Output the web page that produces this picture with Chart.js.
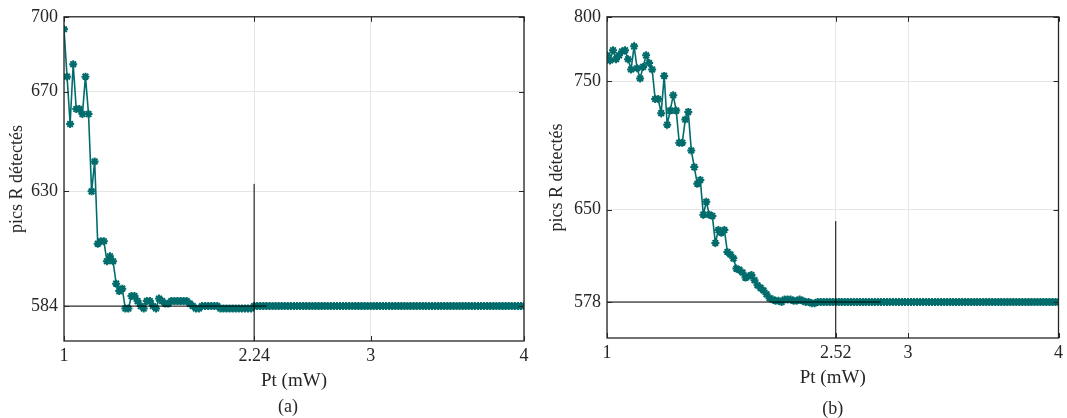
<!DOCTYPE html>
<html>
<head>
<meta charset="utf-8">
<script src="https://cdn.jsdelivr.net/npm/chart.js@4"></script>
<style>
  body { margin: 0; background: #fff; }
  canvas { position: absolute; top: 0; }
  #chartA { left: 0; }
  #chartB { left: 533px; }
</style>
</head>
<body>
<canvas id="chartA" width="533" height="418"></canvas>
<canvas id="chartB" width="534" height="418"></canvas>
<script>
// power sweep: 1 -> 4 mW, step 0.02 mW
const ptStart = 1;
const ptStep = 0.02;

// (a) detected R peaks
const peaksA = [
  695, 676, 657, 681, 663, 663, 661, 676, 661, 630,
  642, 609, 610, 610, 602, 604, 602, 593, 590, 591,
  583, 583, 588, 588, 586, 584, 583, 586, 586, 584,
  583, 587, 586, 585, 585, 586, 586, 586, 586, 586,
  586, 585, 584, 583, 583, 584, 584, 584, 584, 584,
  584, 583, 583, 583, 583, 583, 583, 583, 583, 583,
  583, 583, 584, 584, 584, 584, 584, 584, 584, 584,
  584, 584, 584, 584, 584, 584, 584, 584, 584, 584,
  584, 584, 584, 584, 584, 584, 584, 584, 584, 584,
  584, 584, 584, 584, 584, 584, 584, 584, 584, 584,
  584, 584, 584, 584, 584, 584, 584, 584, 584, 584,
  584, 584, 584, 584, 584, 584, 584, 584, 584, 584,
  584, 584, 584, 584, 584, 584, 584, 584, 584, 584,
  584, 584, 584, 584, 584, 584, 584, 584, 584, 584,
  584, 584, 584, 584, 584, 584, 584, 584, 584, 584,
  584
];

// (b) detected R peaks
const peaksB = [
  770, 766, 774, 767, 770, 773, 774, 767, 759, 777,
  760, 752, 761, 770, 764, 759, 736, 736, 725, 754,
  716, 727, 739, 727, 702, 702, 720, 726, 696, 683,
  670, 673, 646, 656, 646, 645, 624, 634, 632, 634,
  617, 615, 612, 604, 603, 601, 597, 598, 599, 595,
  591, 589, 587, 584, 581, 580, 579, 579, 578, 580,
  580, 580, 579, 579, 580, 579, 578, 578, 577, 577,
  578, 578, 578, 578, 578, 578, 578, 578, 578, 578,
  578, 578, 578, 578, 578, 578, 578, 578, 578, 578,
  578, 578, 578, 578, 578, 578, 578, 578, 578, 578,
  578, 578, 578, 578, 578, 578, 578, 578, 578, 578,
  578, 578, 578, 578, 578, 578, 578, 578, 578, 578,
  578, 578, 578, 578, 578, 578, 578, 578, 578, 578,
  578, 578, 578, 578, 578, 578, 578, 578, 578, 578,
  578, 578, 578, 578, 578, 578, 578, 578, 578, 578,
  578
];

// tick labels
const xTicksA = [1, 2.24, 3, 4];
const yTicksA = [584, 630, 670, 700];
const xTicksB = [1, 2.52, 3, 4];
const yTicksB = [578, 650, 750, 800];

// marker lines (x, y pairs)
const hLineA = [[1, 584], [2.32, 584]];
const vLineA = [[2.24, 570], [2.24, 633]];
const hLineB = [[1, 578], [2.82, 578]];
const vLineB = [[2.52, 550], [2.52, 641]];

const teal = "#006c6c";
const ink = "#262626";
const serif = "'Liberation Serif', 'Times New Roman', serif";

const frame = {
  id: "frame",
  afterDraw(chart, args, opts) {
    const { ctx, chartArea: a, scales } = chart;
    ctx.save();
    ctx.strokeStyle = ink;
    ctx.lineWidth = 1.3;
    ctx.strokeRect(a.left, a.top, a.right - a.left, a.bottom - a.top);
    ctx.lineWidth = 1;
    ctx.beginPath();
    scales.x.ticks.forEach((t) => {
      const px = Math.round(scales.x.getPixelForValue(t.value)) + 0.5;
      ctx.moveTo(px, a.bottom);
      ctx.lineTo(px, a.bottom - 5);
      ctx.moveTo(px, a.top);
      ctx.lineTo(px, a.top + 5);
    });
    scales.y.ticks.forEach((t) => {
      const py = Math.round(scales.y.getPixelForValue(t.value)) + 0.5;
      ctx.moveTo(a.left, py);
      ctx.lineTo(a.left + 5, py);
      ctx.moveTo(a.right, py);
      ctx.lineTo(a.right - 5, py);
    });
    ctx.stroke();
    ctx.fillStyle = ink;
    ctx.font = "18px " + serif;
    ctx.textAlign = "center";
    ctx.textBaseline = "middle";
    ctx.fillText(opts.label, (a.left + a.right) / 2 + opts.dx, opts.labelY);
    ctx.restore();
  },
};

function toPoints(values) {
  return values.map((v, i) => ({ x: ptStart + i * ptStep, y: v }));
}

function pairs(line) {
  return line.map((p) => ({ x: p[0], y: p[1] }));
}

function makeChart(id, o) {
  new Chart(document.getElementById(id), {
    type: "line",
    data: {
      datasets: [
        { data: pairs(o.hLine), borderColor: "#000", borderWidth: 1, pointRadius: 0 },
        { data: pairs(o.vLine), borderColor: "#000", borderWidth: 1, pointRadius: 0 },
        {
          data: toPoints(o.values),
          borderColor: teal,
          borderWidth: 1.6,
          pointStyle: "star",
          pointRadius: 4,
          pointBorderWidth: 2,
          pointBorderColor: teal,
          pointBackgroundColor: teal,
        },
      ],
    },
    options: {
      responsive: false,
      animation: false,
      parsing: false,
      layout: { padding: o.padding },
      plugins: {
        legend: { display: false },
        tooltip: { enabled: false },
        frame: { label: o.label, labelY: o.labelY, dx: o.labelDx },
      },
      scales: {
        x: {
          type: "linear",
          min: 1,
          max: 4,
          afterBuildTicks: (axis) => { axis.ticks = o.xTicks.map((v) => ({ value: v })); },
          afterFit: (axis) => { axis.height = o.xHeight; },
          ticks: {
            autoSkip: false,
            maxRotation: 0,
            padding: 4,
            color: ink,
            font: { family: serif, size: 18 },
            callback: (v) => String(v),
          },
          grid: { color: "#e6e6e6", drawTicks: false },
          border: { display: false },
          title: {
            display: true,
            text: "Pt (mW)",
            color: ink,
            font: { family: serif, size: 19 },
            padding: { top: 0, bottom: o.xTitlePad },
          },
        },
        y: {
          min: o.yMin,
          max: o.yMax,
          afterBuildTicks: (axis) => { axis.ticks = o.yTicks.map((v) => ({ value: v })); },
          afterFit: (axis) => { axis.width = o.yWidth; },
          ticks: {
            autoSkip: false,
            padding: 6,
            color: ink,
            font: { family: serif, size: 18 },
            callback: (v) => String(v),
          },
          grid: { color: "#e6e6e6", drawTicks: false },
          border: { display: false },
          title: {
            display: true,
            text: "pics R détectés",
            color: ink,
            font: { family: serif, size: 18 },
            padding: { top: o.yTitlePad, bottom: 0 },
          },
        },
      },
    },
    plugins: [frame],
  });
}

makeChart("chartA", {
  values: peaksA,
  xTicks: xTicksA,
  yTicks: yTicksA,
  hLine: hLineA,
  vLine: vLineA,
  yMin: 570,
  yMax: 700,
  padding: { left: 0, right: 9, top: 16, bottom: 0 },
  xHeight: 77,
  yWidth: 64,
  xTitlePad: 26,
  yTitlePad: 6,
  label: "(a)",
  labelY: 407,
  labelDx: -6,
});

makeChart("chartB", {
  values: peaksB,
  xTicks: xTicksB,
  yTicks: yTicksB,
  hLine: hLineB,
  vLine: vLineB,
  yMin: 550,
  yMax: 800,
  padding: { left: 0, right: 7, top: 13, bottom: 0 },
  xHeight: 80,
  yWidth: 74,
  xTitlePad: 29,
  yTitlePad: 13,
  label: "(b)",
  labelY: 409,
  labelDx: 0,
});
</script>
</body>
</html>
